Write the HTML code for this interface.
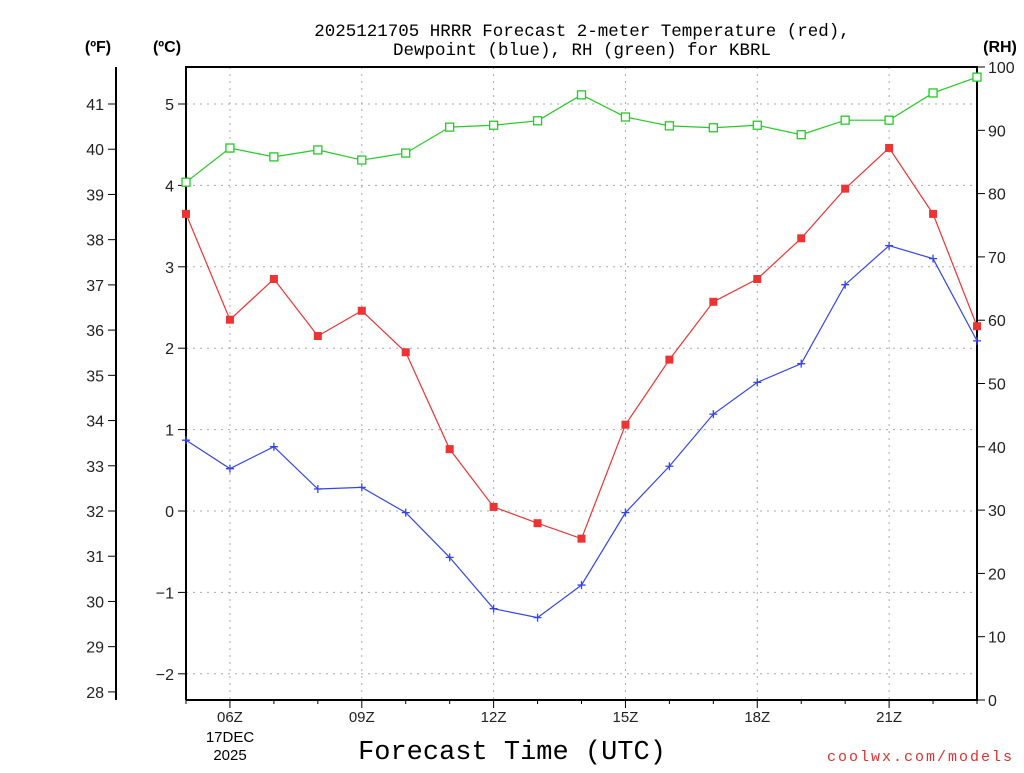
<!DOCTYPE html>
<html><head><meta charset="utf-8"><style>
body{margin:0;background:#fff;font-family:"Liberation Sans",sans-serif}
svg text{font-family:"Liberation Sans",sans-serif}
svg text.mono{font-family:"Liberation Mono",monospace}
</style></head><body>
<svg id="chart" width="1024" height="768" xmlns="http://www.w3.org/2000/svg">
<g id="grid"></g>
<g id="axes"></g>
<g id="series"></g>
<text class="mono" x="582" y="36" text-anchor="middle" font-size="17.5" fill="#000">2025121705 HRRR Forecast 2-meter Temperature (red),</text>
<text class="mono" x="582" y="55" text-anchor="middle" font-size="17.5" fill="#000">Dewpoint (blue), RH (green) for KBRL</text>
<text x="98" y="52" text-anchor="middle" font-size="16" font-weight="bold">(ºF)</text>
<text x="167" y="52" text-anchor="middle" font-size="16" font-weight="bold">(ºC)</text>
<text x="1000" y="52" text-anchor="middle" font-size="16" font-weight="bold">(RH)</text>
<text class="mono" x="512" y="759" text-anchor="middle" font-size="27">Forecast Time (UTC)</text>
<text x="230" y="742" text-anchor="middle" font-size="15">17DEC</text>
<text x="230" y="760" text-anchor="middle" font-size="15">2025</text>
<text class="mono" x="1014" y="761" text-anchor="end" font-size="15" fill="#e03030" letter-spacing="2">coolwx.com/models</text>
</svg>
<script>
const hours=[5,6,7,8,9,10,11,12,13,14,15,16,17,18,19,20,21,22,23];
const tempC=[3.65,2.35,2.85,2.15,2.46,1.95,0.76,0.05,-0.15,-0.34,1.06,1.86,2.57,2.85,3.35,3.96,4.46,3.65,2.27];
const dewC=[0.87,0.52,0.79,0.27,0.29,-0.02,-0.57,-1.2,-1.31,-0.91,-0.02,0.55,1.19,1.58,1.81,2.78,3.26,3.1,2.09];
const rh=[81.8,87.2,85.8,86.9,85.3,86.4,90.5,90.8,91.5,95.6,92.1,90.7,90.4,90.8,89.3,91.6,91.6,95.9,98.4];
const xTickLabels=["06Z","09Z","12Z","15Z","18Z","21Z"];
const xTickHours=[6,9,12,15,18,21];
const cTicks=[-2,-1,0,1,2,3,4,5];
const fTicks=[28,29,30,31,32,33,34,35,36,37,38,39,40,41];
const rhTicks=[0,10,20,30,40,50,60,70,80,90,100];
const L=186,R=977,T=67,B=700;
const x=h=>L+(h-5)*(R-L)/18;
const yC=c=>511-c*81.4;
const yF=f=>yC((f-32)*5/9);
const yRH=r=>B-r*(B-T)/100;
const NS="http://www.w3.org/2000/svg";
function mk(parent,tag,attrs){const e=document.createElementNS(NS,tag);for(const k in attrs)e.setAttribute(k,attrs[k]);document.getElementById(parent).appendChild(e);return e;}
xTickHours.forEach(h=>{const e=mk('grid','line',{x1:x(h),x2:x(h),y1:T,y2:B,stroke:'#aaa','stroke-dasharray':'2,5'});

});
cTicks.forEach(c=>{const e=mk('grid','line',{x1:L,x2:R,y1:yC(c),y2:yC(c),stroke:'#aaa','stroke-dasharray':'2,5'});

});
let fr=mk('axes','path',{d:`M${L},${B} L${L},${T} L${R},${T} L${R},${B} L${L},${B}`,fill:'none',stroke:'#000','stroke-width':2});


let fa=mk('axes','line',{x1:116,x2:116,y1:67,y2:700,stroke:'#000','stroke-width':2});


fTicks.forEach(f=>{const y=yF(f);mk('axes','line',{x1:108,x2:116,y1:y,y2:y,stroke:'#000'});
const t=mk('axes','text',{x:104,y:y+6,'text-anchor':'end','font-size':16,fill:'#222'});t.textContent=f;

});
cTicks.forEach(c=>{const y=yC(c);mk('axes','line',{x1:178,x2:186,y1:y,y2:y,stroke:'#000'});
const t=mk('axes','text',{x:174,y:y+6,'text-anchor':'end','font-size':16,fill:'#222'});t.textContent=c<0?'−'+(-c):c;

});
rhTicks.forEach(r=>{const y=yRH(r);mk('axes','line',{x1:977,x2:985,y1:y,y2:y,stroke:'#000'});
const t=mk('axes','text',{x:988,y:y+6,'font-size':16,fill:'#222'});t.textContent=r;

});
hours.forEach(h=>{mk('axes','line',{x1:x(h),x2:x(h),y1:B,y2:B+(xTickHours.includes(h)?8:4),stroke:'#000'});});
xTickHours.forEach((h,i)=>{const t=mk('axes','text',{x:x(h),y:722,'text-anchor':'middle','font-size':15,fill:'#222'});t.textContent=xTickLabels[i];

});
function line(vals,yf,color,name){const p=mk('series','polyline',{points:vals.map((v,i)=>x(hours[i])+','+yf(v)).join(' '),fill:'none',stroke:color,'stroke-width':1.2});

}
line(rh,yRH,'#22cc22','rh-line');
line(tempC,yC,'#ee3333','temperature-line');
line(dewC,yC,'#3344ee','dewpoint-line');
rh.forEach((v,i)=>{const e=mk('series','rect',{x:x(hours[i])-4,y:yRH(v)-4,width:8,height:8,fill:'#fff',stroke:'#22cc22','stroke-width':1.3});

});
tempC.forEach((v,i)=>{const e=mk('series','rect',{x:x(hours[i])-4,y:yC(v)-4,width:8,height:8,fill:'#ee3333'});

});
dewC.forEach((v,i)=>{const cx=x(hours[i]),cy=yC(v);const e=mk('series','path',{d:`M${cx-4},${cy}H${cx+4}M${cx},${cy-4}V${cy+4}`,stroke:'#3344ee','stroke-width':1.3});

});
</script>
</body></html>
